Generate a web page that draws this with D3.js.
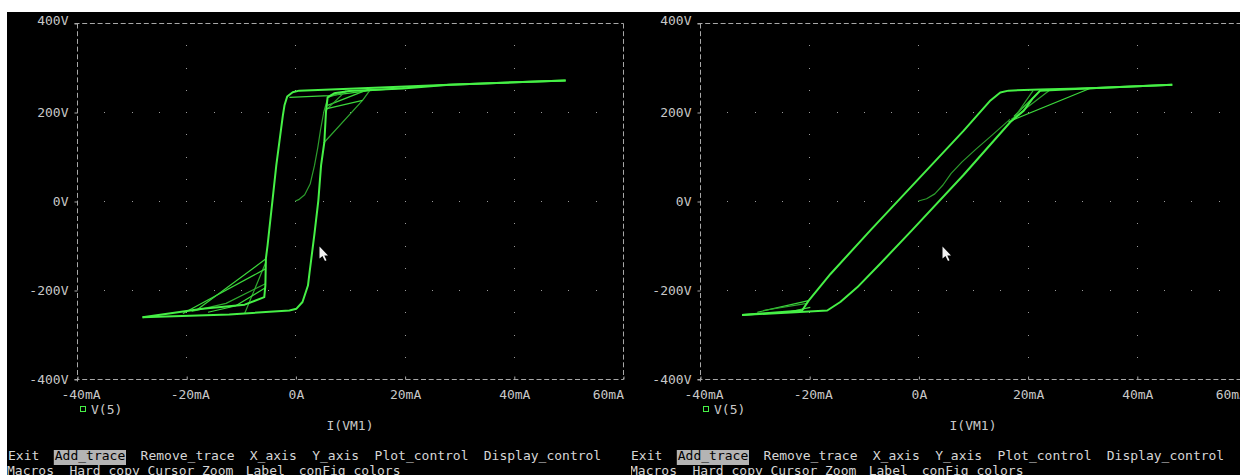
<!DOCTYPE html>
<html>
<head>
<meta charset="utf-8">
<script src="https://cdn.jsdelivr.net/npm/d3@7"></script>
<style>
  body { margin: 0; background: #fff; }
  svg { display: block; }
  text { font-family: "DejaVu Sans Mono", "Liberation Mono", monospace; font-size: 13px; }
</style>
</head>
<body>
<div id="viz_area"></div>
<script>
var width = 1240
var height = 475

// axes (x = I(VM1) in mA, y = V(5) in V)
var xTicks = [-40, -20, 0, 20, 40, 60]
var xTickLabels = ["-40mA", "-20mA", "0A", "20mA", "40mA", "60mA"]
var yTicks = [400, 200, 0, -200, -400]
var yTickLabels = ["400V", "200V", "0V", "-200V", "-400V"]

// left plot : [mA, V]
var leftDown = [[49.5, 271], [28.2, 261], [9.9, 252], [0.7, 248], [-0.5, 244.5], [-1.5, 235],
  [-2.0, 215], [-2.3, 192], [-2.9, 136], [-3.5, 80], [-4.2, 1], [-4.8, -66], [-5.1, -100],
  [-5.4, -129], [-5.5, -190], [-5.7, -216], [-9.3, -233], [-17.0, -242], [-28.0, -261]]
var leftUp = [[-28.0, -261], [-12.1, -255], [-1.1, -246], [0.2, -242], [1.3, -227], [2.3, -190],
  [2.6, -160], [3.5, -73], [4.2, 1], [4.7, 80], [5.3, 132], [5.6, 200], [5.9, 233], [7.1, 242],
  [9.9, 247], [19.6, 253], [28.2, 261], [49.5, 271]]
var leftInitial = [[0, 0], [0.6, 3], [1.7, 14], [2.7, 38], [3.5, 80], [4.1, 120], [4.6, 160],
  [5.2, 200], [5.8, 226]]
var leftMinorTop = [
  [[-1.1, 233], [6.2, 237], [13.6, 248], [20, 254]],
  [[5.3, 132], [12.3, 226], [13.6, 248]],
  [[5.9, 215], [13.6, 252]],
  [[5.5, 203], [9.3, 248]],
  [[5.6, 207], [12.3, 226]],
  [[5.9, 233], [9.9, 248]]
]
var leftMinorBottom = [
  [[-5.4, -130], [-18.2, -246]],
  [[-5.4, -137], [-9.3, -253]],
  [[-5.4, -152], [-20.6, -253]],
  [[-5.5, -186], [-12.7, -230], [-19, -248]],
  [[-5.5, -195], [-11, -236], [-16, -250]]
]

// right plot : [mA, V]
var rightDown = [[46.5, 261], [31.5, 253.5], [22.3, 250.6], [16.5, 248], [15.0, 244], [13.2, 226],
  [8.3, 158], [-8.8, -66], [-16.1, -164], [-20.1, -224], [-21.3, -246], [-32.3, -256]]
var rightUp = [[-32.3, -256], [-23.4, -250.6], [-16.7, -246], [-14.3, -227], [-11.2, -194],
  [-7.0, -141], [-1.2, -66], [8.3, 59], [16.8, 177], [19.3, 203], [20.9, 230], [22.3, 248],
  [31.5, 253.5], [46.5, 261]]
var rightInitial = [[0, 0], [1.5, 5], [3, 16], [4.5, 36], [6, 62], [8, 88], [10.5, 116],
  [13.5, 148], [16.8, 184]]
var rightMinorTop = [
  [[16.5, 178], [31.5, 253.5]],
  [[17, 183], [24.2, 250.5]],
  [[17.5, 190], [22.3, 248]],
  [[18, 195], [21, 248]]
]
var rightMinorBottom = [
  [[-20.1, -224], [-29.5, -250]],
  [[-20.4, -230], [-28.4, -246]],
  [[-19.8, -239], [-24, -250]]
]

// menu bar
var menuRow1 = ["Exit", "Add_trace", "Remove_trace", "X_axis", "Y_axis", "Plot_control", "Display_control"]
var menuRow1Cols = [0, 6, 17, 31, 39, 47, 61]
var menuRow2 = ["Macros", "Hard_copy", "Cursor", "Zoom", "Label", "conFig_colors"]
var menuRow2Cols = [0, 8, 18, 25, 30.6, 37.4]

var green = "#46f046"

var svg = d3.select("#viz_area")
  .append("svg")
  .attr("width", width)
  .attr("height", height)
  .style("background-color", "white")

svg.append("rect")
  .attr("x", 7).attr("y", 12)
  .attr("width", width - 7).attr("height", height - 12)
  .attr("fill", "black")

svg.append("clipPath").attr("id", "rightClip")
  .append("rect").attr("x", 8).attr("y", 12).attr("width", 700).attr("height", height)

var scX = d3.scaleLinear().domain([-40, 60]).range([77, 623])
var scY = d3.scaleLinear().domain([-400, 400]).range([379, 23])

var makeLine = d3.line()
  .x(d => scX(d[0]))
  .y(d => scY(d[1]))

function drawGrid(g) {
  var dots = []
  xTicks.slice(1, -1).forEach(function (xv) {
    d3.range(-350, 351, 50).forEach(v => dots.push([xv, v]))
  })
  yTicks.slice(1, -1).forEach(function (yv) {
    d3.range(-35, 56, 5).forEach(v => dots.push([v, yv]))
  })
  g.append("g")
    .selectAll("rect")
    .data(dots)
    .enter().append("rect")
    .attr("x", d => Math.round(scX(d[0])))
    .attr("y", d => Math.round(scY(d[1])))
    .attr("width", 1)
    .attr("height", 1)
    .attr("fill", "#9a9a9a")
}

function drawFrame(g) {
  var x0 = scX.range()[0], x1 = scX.range()[1]
  var y0 = scY.range()[1], y1 = scY.range()[0]
  var frame = [
    [x0 - 3, y0, x1, y0],
    [x0, y0, x0, y1 + 2],
    [x0 - 3, y1, x1, y1],
    [x1, y0, x1, y1]
  ]
  g.append("g")
    .selectAll("line")
    .data(frame)
    .enter().append("line")
    .attr("x1", d => d[0] + 0.5)
    .attr("y1", d => d[1] + 0.5)
    .attr("x2", d => d[2] + 0.5)
    .attr("y2", d => d[3] + 0.5)
    .attr("stroke", "#a8a8a8")
    .attr("stroke-dasharray", "5,2.7")

  var yAx = g.append("g")
    .attr("transform", `translate(${x0 + 0.5},0.5)`)
    .call(d3.axisLeft(scY).tickValues(yTicks).tickSize(3).tickSizeOuter(0).tickPadding(6)
      .tickFormat((d, i) => yTickLabels[i]))
  yAx.select(".domain").remove()
  yAx.selectAll("line").attr("stroke", "#a8a8a8")
  yAx.selectAll("text")
    .attr("fill", "#c8c8c8")
    .attr("y", d => d === 400 ? -3.5 : 0)

  var xAx = g.append("g")
    .attr("transform", `translate(0.5,${y1 + 0.5})`)
    .call(d3.axisBottom(scX).tickValues(xTicks).tickSize(-3).tickSizeOuter(0).tickPadding(10)
      .tickFormat((d, i) => xTickLabels[i]))
  xAx.select(".domain").remove()
  xAx.selectAll("line").attr("stroke", "#a8a8a8")
  xAx.selectAll("text")
    .attr("fill", "#c8c8c8")
    .attr("text-anchor", (d, i) => i === xTicks.length - 1 ? "end" : "middle")
    .attr("dx", d => d < 0 ? 3 : 0)
}

function drawTraces(g, down, up, initial, minorTop, minorBottom) {
  var t = g.append("g").attr("fill", "none").attr("stroke-linejoin", "round")
  t.append("path")
    .attr("d", makeLine(initial))
    .attr("stroke", "#2c9c2c")
    .attr("stroke-width", 1.2)
  t.selectAll(".minor")
    .data(minorTop.concat(minorBottom))
    .enter().append("path")
    .attr("class", "minor")
    .attr("d", d => makeLine(d))
    .attr("stroke", (d, i) => i % 2 ? "#2fa82f" : "#3cd83c")
    .attr("stroke-width", 1.2)
  t.append("path")
    .attr("d", makeLine(down))
    .attr("stroke", green)
    .attr("stroke-width", 2)
  t.append("path")
    .attr("d", makeLine(up))
    .attr("stroke", green)
    .attr("stroke-width", 2)
}

function drawLabels(g, cursorAt) {
  g.append("rect")
    .attr("x", 80.5).attr("y", 406.5)
    .attr("width", 5).attr("height", 5)
    .attr("fill", "none")
    .attr("stroke", green)
  g.append("text")
    .attr("x", 91).attr("y", 413.5)
    .attr("fill", "#c8c8c8")
    .text("V(5)")
  g.append("text")
    .attr("x", 350).attr("y", 429.5)
    .attr("text-anchor", "middle")
    .attr("fill", "#c8c8c8")
    .text("I(VM1)")

  g.append("rect")
    .attr("x", 8 + 6 * 7.8 - 1).attr("y", 450)
    .attr("width", 9 * 7.8 + 2).attr("height", 15)
    .attr("fill", "#b4b4b4")
  g.append("g")
    .selectAll("text")
    .data(menuRow1)
    .enter().append("text")
    .attr("x", (d, i) => 8 + menuRow1Cols[i] * 7.8)
    .attr("y", 460)
    .attr("fill", (d, i) => i === 1 ? "black" : "#d6d6d6")
    .text(d => d)
  g.append("g")
    .selectAll("text")
    .data(menuRow2)
    .enter().append("text")
    .attr("x", (d, i) => 7 + menuRow2Cols[i] * 7.8)
    .attr("y", 475)
    .attr("fill", "#d6d6d6")
    .text(d => d)

  // mouse pointer
  g.append("path")
    .attr("transform", `translate(${cursorAt[0]},${cursorAt[1]})`)
    .attr("d", "M0,0 L0,12 L3,9.5 L5.5,14.5 L7,13.8 L4.8,9 L8.5,9 Z")
    .attr("fill", "#f2f2f2")
}

function drawPanel(offset, down, up, initial, minorTop, minorBottom, cursorAt) {
  var g = svg.append("g").attr("transform", `translate(${offset},0)`)
  if (offset > 0) g.attr("clip-path", "url(#rightClip)")
  drawGrid(g)
  drawFrame(g)
  drawTraces(g, down, up, initial, minorTop, minorBottom)
  drawLabels(g, cursorAt)
}

drawPanel(0, leftDown, leftUp, leftInitial, leftMinorTop, leftMinorBottom, [319.5, 246.5])
drawPanel(623, rightDown, rightUp, rightInitial, rightMinorTop, rightMinorBottom, [319.5, 246.5])
</script>
</body>
</html>
